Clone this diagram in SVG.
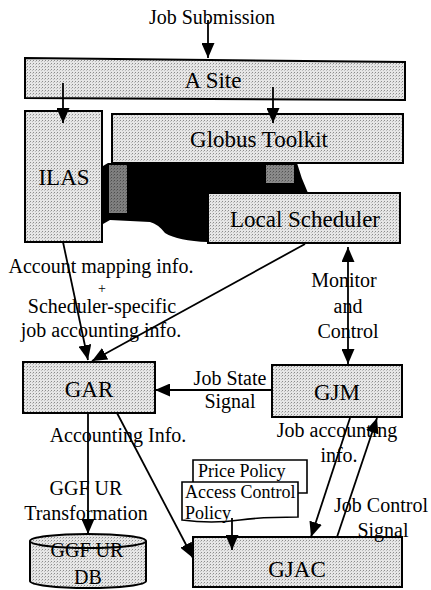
<svg xmlns="http://www.w3.org/2000/svg" width="431" height="590" viewBox="0 0 431 590">
  <defs>
    <style>
      .box { fill: url(#stipple); stroke: #000; stroke-width: 2; }
      .doc { fill: #fff; stroke: #000; stroke-width: 1.6; }
      .lbl { font-family: "Liberation Serif", "Times New Roman", serif; font-size: 20px; fill: #000; text-anchor: middle; }
      .node { font-family: "Liberation Serif", "Times New Roman", serif; font-size: 23px; fill: #000; text-anchor: middle; }
      .small { font-family: "Liberation Serif", "Times New Roman", serif; font-size: 18px; fill: #000; }
      .wire { fill: none; stroke: #000; stroke-width: 1.8; }
    </style>
    <pattern id="stipple" width="3" height="3" patternUnits="userSpaceOnUse">
      <rect width="3" height="3" fill="#e6e6e6"/>
      <rect width="1" height="1" fill="#8c8c8c"/>
      <rect x="2" y="1" width="1" height="1" fill="#bdbdbd"/>
    </pattern>
    <marker id="head" viewBox="0 0 15 13" refX="15" refY="6.5" markerWidth="15" markerHeight="13" markerUnits="userSpaceOnUse" orient="auto-start-reverse">
      <path d="M0,0 L15,6.5 L0,13 Z" fill="#000"/>
    </marker>
  </defs>

  <rect width="431" height="590" fill="#fff"/>

  <!-- cluster hardware silhouette between the site components -->
  <g id="cluster">
    <path d="M103,166 L108,163 L297,163 Q301,178 308,193 L208,193 L208,242 Q178,241 165,233 Q158,224 150,222 L110,220 L103,224 Z" fill="#000"/>
    <rect x="109" y="165" width="18" height="48" fill="url(#stipple)" opacity="0.55"/>
    <rect x="266" y="165" width="28" height="18" fill="url(#stipple)" opacity="0.6"/>
  </g>

  <g id="a-site">
    <polygon class="box" points="25,58 405,62 405,100 25,98"/>
    <text class="node" x="213" y="88">A Site</text>
  </g>

  <g id="ilas">
    <rect class="box" x="25" y="111" width="77" height="131"/>
    <text class="node" x="64" y="185">ILAS</text>
  </g>

  <g id="globus-toolkit">
    <rect class="box" x="112" y="114" width="291" height="49"/>
    <text class="node" x="259" y="147">Globus Toolkit</text>
  </g>

  <g id="local-scheduler">
    <rect class="box" x="208" y="193" width="192" height="50"/>
    <text class="node" x="305" y="227">Local Scheduler</text>
  </g>

  <g id="gar">
    <rect class="box" x="23" y="362" width="132" height="51"/>
    <text class="node" x="89" y="397">GAR</text>
  </g>

  <g id="gjm">
    <rect class="box" x="272" y="365" width="130" height="52"/>
    <text class="node" x="337" y="400">GJM</text>
  </g>

  <g id="ggf-ur-db">
    <path class="box" d="M30,541 L30,581 A58,7 0 0 0 146,581 L146,541"/>
    <ellipse class="box" cx="88" cy="541" rx="58" ry="7"/>
    <text class="lbl" x="87" y="557">GGF UR</text>
    <text class="lbl" x="88" y="584">DB</text>
  </g>

  <g id="gjac">
    <rect class="box" x="193" y="537" width="209" height="50"/>
    <text class="node" x="297" y="577">GJAC</text>
  </g>

  <g id="price-policy">
    <path class="doc" d="M193,482 L193,460 L307,460 L307,493 L297,493"/>
    <text class="small" x="198" y="477">Price Policy</text>
  </g>

  <g id="access-control-policy">
    <path class="doc" d="M182,482 L298,482 L298,517 Q262,517 240,520 Q212,524 182,520 Z"/>
    <text class="small" x="185" y="498">Access Control</text>
    <text class="small" x="185" y="519">Policy</text>
  </g>

  <g id="connectors">
    <line class="wire" x1="208" y1="20" x2="208" y2="58" marker-end="url(#head)"/>
    <line class="wire" x1="63" y1="83" x2="63" y2="123" marker-end="url(#head)"/>
    <line class="wire" x1="273" y1="87" x2="273" y2="123" marker-end="url(#head)"/>
    <line class="wire" x1="63" y1="242" x2="88" y2="360" marker-end="url(#head)"/>
    <line class="wire" x1="305" y1="244" x2="92" y2="361" marker-end="url(#head)"/>
    <line class="wire" x1="348" y1="247" x2="348" y2="364" marker-start="url(#head)" marker-end="url(#head)"/>
    <line class="wire" x1="272" y1="390" x2="155" y2="390" marker-end="url(#head)"/>
    <line class="wire" x1="88" y1="413" x2="88" y2="534" marker-end="url(#head)"/>
    <line class="wire" x1="117" y1="413" x2="193" y2="558" marker-end="url(#head)"/>
    <line class="wire" x1="232" y1="518" x2="232" y2="550" marker-end="url(#head)"/>
    <line class="wire" x1="350" y1="418" x2="311" y2="537" marker-end="url(#head)"/>
    <line class="wire" x1="337" y1="537" x2="377" y2="418" marker-end="url(#head)"/>
  </g>

  <g id="labels">
    <text class="lbl" x="212" y="24">Job Submission</text>
    <text class="lbl" x="101" y="273">Account mapping info.</text>
    <text class="lbl" x="102" y="293" style="font-size:14px">+</text>
    <text class="lbl" x="102" y="313">Scheduler-specific</text>
    <text class="lbl" x="101" y="337">job accounting info.</text>
    <text class="lbl" x="344" y="287">Monitor</text>
    <text class="lbl" x="348" y="313">and</text>
    <text class="lbl" x="348" y="338">Control</text>
    <text class="lbl" x="230" y="385">Job State</text>
    <text class="lbl" x="230" y="408">Signal</text>
    <text class="lbl" x="118" y="442">Accounting Info.</text>
    <text class="lbl" x="337" y="437">Job accounting</text>
    <text class="lbl" x="339" y="462">info.</text>
    <text class="lbl" x="86" y="495">GGF UR</text>
    <text class="lbl" x="86" y="520">Transformation</text>
    <text class="lbl" x="381" y="512">Job Control</text>
    <text class="lbl" x="383" y="537">Signal</text>
  </g>
</svg>
